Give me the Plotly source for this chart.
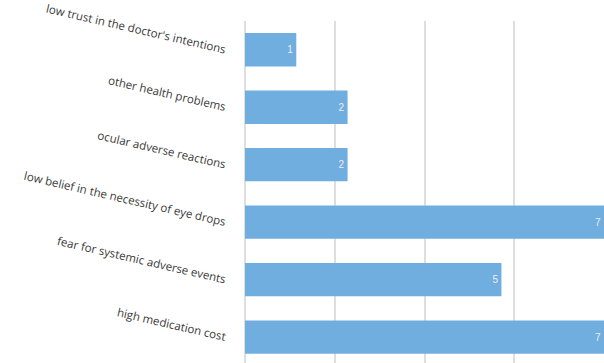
import plotly.graph_objects as go

categories = [
    "low trust in the doctor's intentions",
    "other health problems",
    "ocular adverse reactions",
    "low belief in the necessity of eye drops",
    "fear for systemic adverse events",
    "high medication cost",
]
values = [1, 2, 2, 7, 5, 7]
grid_ticks = [1.75, 3.5, 5.25, 7]

fig = go.Figure(go.Bar(
    x=values, y=categories, orientation="h",
    marker=dict(color="#71AEE0", line=dict(width=0)),
    text=[str(v) for v in values], textposition="inside",
    insidetextanchor="end",
    textfont=dict(color="#EDEDED", size=10, family="Liberation Sans"),
    width=0.58,
))

fig.update_layout(
    width=604, height=363,
    margin=dict(l=245, r=0, t=21, b=0),
    paper_bgcolor="white", plot_bgcolor="white",
    showlegend=False,
    xaxis=dict(range=[0, 7], tickvals=grid_ticks, showticklabels=False,
               showgrid=True, gridcolor="#DEDEDE", gridwidth=1.5,
               zeroline=True, zerolinecolor="#DEDEDE", zerolinewidth=1.5,
               fixedrange=True),
    yaxis=dict(type="category", categoryorder="array", categoryarray=categories,
               range=[5.45, -0.5], tickangle=13,
               tickfont=dict(size=11.5, color="#3A3A3A", family="Open Sans"),
               ticklabelstandoff=18, showgrid=False, showline=False),
)

fig.write_html("out.html")
